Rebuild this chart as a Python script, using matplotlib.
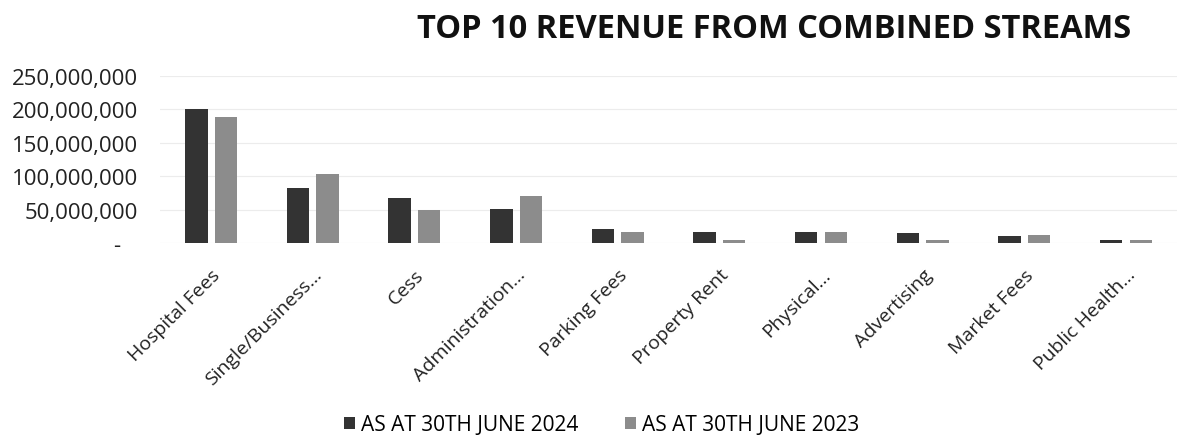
import matplotlib
matplotlib.use("Agg")
import matplotlib.pyplot as plt
from matplotlib.ticker import FuncFormatter
import numpy as np

plt.rcParams['font.family'] = ['Open Sans', 'DejaVu Sans']

categories = ['Hospital Fees', 'Single/Business...', 'Cess', 'Administration...',
              'Parking Fees', 'Property Rent', 'Physical...', 'Advertising',
              'Market Fees', 'Public Health...']
rev_2024 = [200e6, 82e6, 67e6, 51e6, 21e6, 16e6, 16e6, 15e6, 11e6, 5e6]
rev_2023 = [188e6, 103e6, 49e6, 70e6, 16e6, 5e6, 17e6, 4e6, 12e6, 4e6]
series_labels = ['AS AT 30TH JUNE 2024', 'AS AT 30TH JUNE 2023']

fig = plt.figure(figsize=(11.96, 4.39), dpi=100)
ax = fig.add_axes([0.134, 0.444, 0.85, 0.381])

x = np.arange(len(categories))
w = 0.22
ax.bar(x - 0.145, rev_2024, width=w, color='#333333', label=series_labels[0], zorder=3)
ax.bar(x + 0.145, rev_2023, width=w, color='#8c8c8c', label=series_labels[1], zorder=3)

ax.set_xlim(-0.5, len(categories) - 0.5)
ax.set_ylim(0, 250e6)
ax.set_yticks(np.arange(0, 250e6 + 1, 50e6))
ax.yaxis.set_major_formatter(FuncFormatter(lambda v, p: '-   ' if v == 0 else f'{v:,.0f}'))
ax.grid(axis='y', color='#ececec', linewidth=0.8, zorder=0)
for s in ax.spines.values():
    s.set_visible(False)
ax.tick_params(axis='both', length=0)
ax.tick_params(axis='y', labelsize=16, pad=16, colors='#222222')
ax.set_xticks(x)
ax.set_xticklabels(categories, rotation=45, ha='right', rotation_mode='anchor',
                   fontsize=14, color='#222222')
ax.tick_params(axis='x', pad=16)

fig.text(0.647, 0.932, 'TOP 10 REVENUE FROM COMBINED STREAMS', ha='center', va='center',
         fontsize=23.5, fontweight='bold', color='#111111')

fig.legend(loc='center', bbox_to_anchor=(0.503, 0.03), ncol=2, frameon=False,
           fontsize=15, handlelength=0.55, handleheight=0.55, columnspacing=2.2,
           handletextpad=0.3)

fig.savefig('out.png', dpi=100, facecolor='white')
